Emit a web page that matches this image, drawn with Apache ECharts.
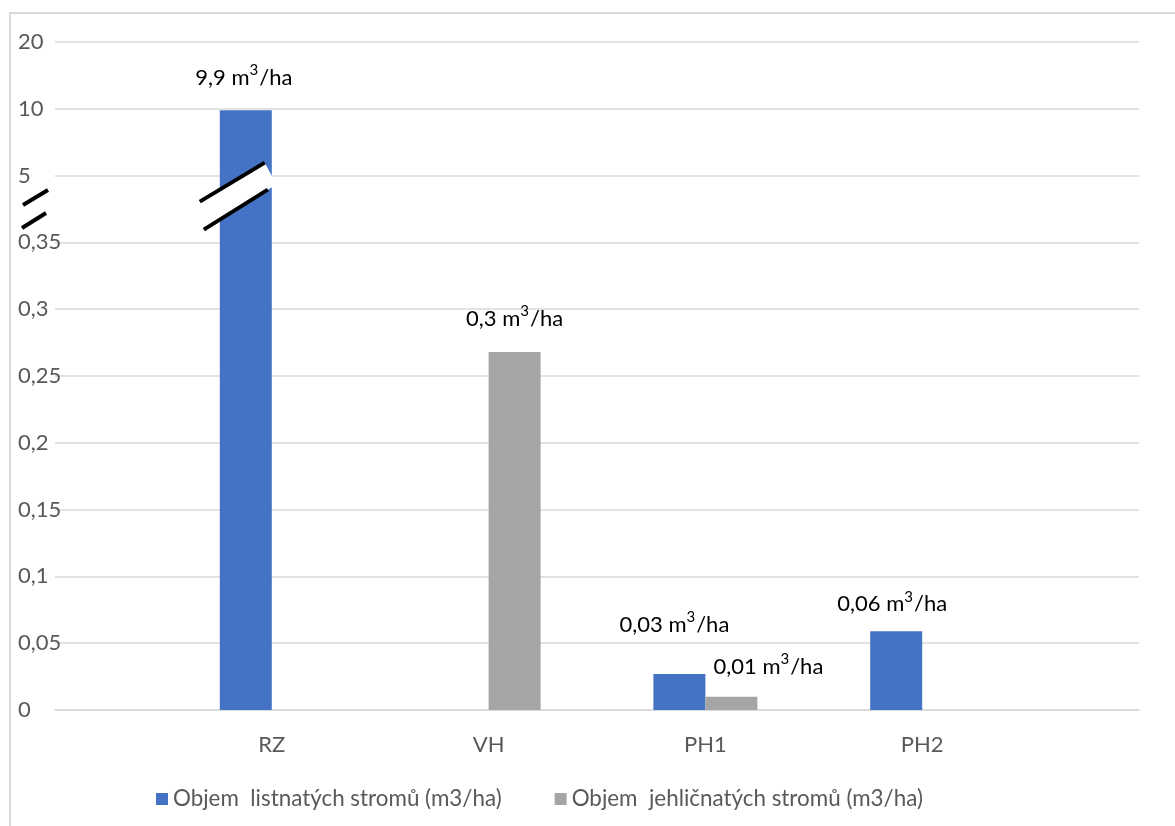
<!DOCTYPE html>
<html>
<head>
<meta charset="utf-8">
<script src="https://cdn.jsdelivr.net/npm/echarts@6/dist/echarts.min.js"></script>
<style>
html,body{margin:0;padding:0;background:#fff;}
#c{width:1175px;height:826px;}
</style>
</head>
<body>
<div id="c"></div>
<script>
// ---------- DATA ----------
const categories = ['RZ', 'VH', 'PH1', 'PH2'];
const seriesNames = ['Objem  listnatých stromů (m3/ha)', 'Objem  jehličnatých stromů (m3/ha)'];
const listnate = [9.9, 0, 0.027, 0.059];
const jehlicnate = [0, 0.268, 0.01, 0];
const listnateLabels = ['9,9 m³/ha', '', '0,03 m³/ha', '0,06 m³/ha'];
const jehlicnateLabels = ['', '0,3 m³/ha', '0,01 m³/ha', ''];
const yTickValues = [0, 0.05, 0.1, 0.15, 0.2, 0.25, 0.3, 0.35, 5, 10, 20];
const yTickLabels = ['0', '0,05', '0,1', '0,15', '0,2', '0,25', '0,3', '0,35', '5', '10', '20'];

// ---------- LAYOUT / STYLE ----------
const FONT = 'Lato, "Open Sans", sans-serif';
const BAR_W = 52;
// label offsets [dx, dy] per category (manual placement as in reference)
const listnateLabelOffsets = [[-2, -21], [0, 0], [-5, -38], [-4, -16]];
const jehlicnateLabelOffsets = [[0, 0], [0, -22], [37, -19], [0, 0]];

// broken axis: map real value -> evenly spaced tick index
function toAxis(v) {
  for (let i = 0; i < yTickValues.length - 1; i++) {
    const a = yTickValues[i], b = yTickValues[i + 1];
    if (v <= b) return i + (v - a) / (b - a);
  }
  return yTickValues.length - 1;
}

const axisCats = [''].concat(categories, ['']);

function richText(s) {
  return s.replace('³', '{sup|3}').replace(/^([^{]*)\{/, '{b|$1}{').replace(/\}([^}]*)$/, '}{b|$1}');
}

function buildData(vals, labels, offsets) {
  const d = [null];
  vals.forEach((v, i) => {
    d.push({
      value: toAxis(v),
      label: {
        show: !!labels[i],
        formatter: labels[i] ? richText(labels[i]) : '',
        offset: offsets[i]
      }
    });
  });
  d.push(null);
  return d;
}

const labelRich = {
  b: {fontFamily: FONT, fontSize: 22, color: '#000', lineHeight: 26, verticalAlign: 'bottom'},
  sup: {fontFamily: FONT, fontSize: 15, color: '#000', lineHeight: 26, verticalAlign: 'top', padding: [0, 1, 0, 0]}
};

const chart = echarts.init(document.getElementById('c'), null, {renderer: 'canvas'});

const option = {
  backgroundColor: '#fff',
  animation: false,
  grid: {left: 55, right: 36, top: 42, bottom: 116, containLabel: false, outerBoundsMode: 'none'},
  legend: {
    left: 151, top: 783,
    icon: 'rect', itemWidth: 12, itemHeight: 12, itemGap: 53,
    textStyle: {fontFamily: FONT, fontSize: 22.4, color: '#595959'},
    data: seriesNames
  },
  xAxis: {
    type: 'category',
    data: axisCats,
    boundaryGap: false,
    axisTick: {show: false},
    axisLine: {show: true, lineStyle: {color: '#d9d9d9', width: 1.5}},
    axisLabel: {fontFamily: FONT, fontSize: 22, color: '#595959', margin: 24},
    splitLine: {show: false}
  },
  yAxis: {
    type: 'value',
    min: 0, max: yTickValues.length - 1, interval: 1,
    axisLine: {show: false},
    axisTick: {show: false},
    axisLabel: {
      fontFamily: FONT, fontSize: 22, color: '#595959', align: 'left', margin: 37,
      formatter: v => yTickLabels[Math.round(v)]
    },
    splitLine: {lineStyle: {color: '#d9d9d9', width: 1.5}}
  },
  series: [
    {
      name: seriesNames[0], type: 'bar', barWidth: BAR_W, barGap: 0,
      itemStyle: {color: '#4472C4'},
      label: {position: 'top', distance: 0, rich: labelRich},
      data: buildData(listnate, listnateLabels, listnateLabelOffsets)
    },
    {
      name: seriesNames[1], type: 'bar', barWidth: BAR_W, barGap: 0,
      itemStyle: {color: '#A5A5A5'},
      label: {position: 'top', distance: 0, rich: labelRich},
      data: buildData(jehlicnate, jehlicnateLabels, jehlicnateLabelOffsets)
    }
  ]
};
chart.setOption(option);

// ---------- decorations: frame and break marks ----------
const rzCenter = chart.convertToPixel({gridIndex: 0}, [1, 0]);
const bx = rzCenter[0] - BAR_W / 2;                 // center of RZ blue bar
const by = chart.convertToPixel({gridIndex: 0}, [1, 7.7])[1];
const ay = chart.convertToPixel({gridIndex: 0}, [1, 7.5])[1];
const ax = 35;
const blk = {stroke: '#000', lineWidth: 4};
function ln(cx, cy, p, q) {
  return {type: 'line', z: 100, shape: {x1: cx + p[0], y1: cy + p[1], x2: cx + q[0], y2: cy + q[1]}, style: blk};
}
chart.setOption({
  graphic: [
    {type: 'rect', z: 0, shape: {x: 10, y: 13, width: 1180, height: 830},
     style: {fill: null, stroke: '#d9d9d9', lineWidth: 2}},
    {type: 'polygon', z: 99,
     shape: {points: [[-46, 6], [19, -33], [27, -18], [27, -9], [22, -6], [-42, 34]].map(p => [bx + p[0], by + p[1]])},
     style: {fill: '#fff'}},
    ln(bx, by, [-46, 6], [19, -33]),
    ln(bx, by, [-42, 34], [22, -6]),
    ln(ax, ay, [-12, -4], [13, -19]),
    ln(ax, ay, [-13, 19], [11, 4])
  ]
});
</script>
</body>
</html>
